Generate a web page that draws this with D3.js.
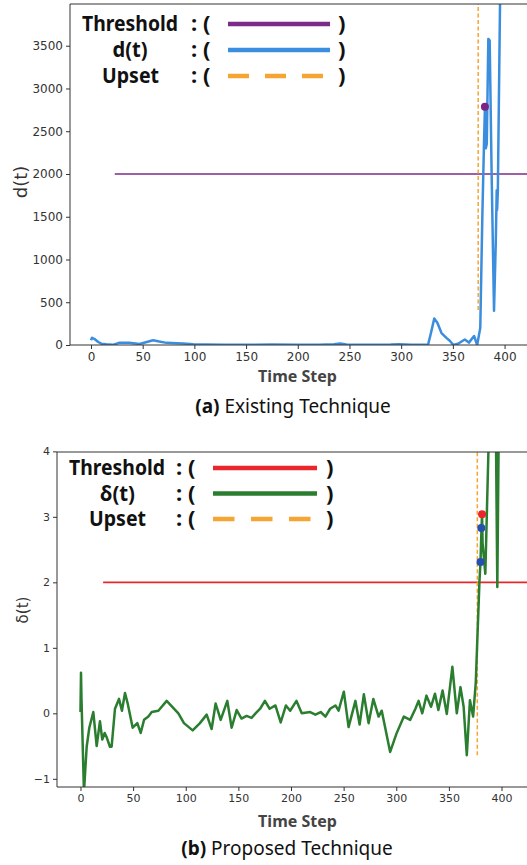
<!DOCTYPE html>
<html>
<head>
<meta charset="utf-8">
<script src="https://cdn.jsdelivr.net/npm/d3@7"></script>
<style>
  body { margin: 0; background: #fff; }
  svg { display: block; }
  .tick text { font-family: "DejaVu Sans", sans-serif; fill: #333; }
  .tick line { stroke: #333; }
  .legend text { font-family: "Noto Sans", sans-serif; font-weight: bold; fill: #111; }
</style>
</head>
<body>
<svg id="chart"></svg>
<script>
const xTicks = [0, 50, 100, 150, 200, 250, 300, 350, 400];
const dTicks = [0, 500, 1000, 1500, 2000, 2500, 3000, 3500];
const deltaTicks = [-1, 0, 1, 2, 3, 4];

// (a) existing technique: d(t)
const dStep = [0, 1, 4, 7, 10, 15, 21, 27, 37, 47, 54, 60, 66, 73, 89, 99, 110, 130, 150, 175, 200, 220, 235, 241, 247, 270, 290, 298, 310, 326,
  329, 332, 335, 339, 344, 347, 350.5, 355, 361.5, 365.5, 370.5, 373.5, 376.5, 378.5, 380, 381, 381.8, 382.8, 384.3, 385.6, 387.5, 389.8,
  391.5, 392.4, 392.8, 393.5, 396];
const dValue = [55, 85, 65, 35, 15, 8, 2, 25, 25, 12, 35, 55, 40, 25, 18, 8, 6, 4, 3, 6, 2, 2, 8, 18, 6, 3, 6, 10, 3, 3,
  150, 310, 260, 140, 80, 50, 0, 15, 65, 28, 105, 0, 200, 1500, 2300, 2780, 2300, 2350, 3580, 3560, 2000, 400,
  1200, 1810, 1580, 1800, 4400];
const dThreshold = 2000;
const dThresholdFrom = 23;
const dUpset = 374.5;
const dUpsetFrom = 410;
const dAlarm = [{step: 381, value: 2785, color: '#7b2482'}];

// (b) proposed technique: delta(t)
const deltaStep = [0, 0.5, 1, 3.3, 5.9, 8.4, 12.2, 15.4, 18.5, 20.7, 23, 25, 28, 29.6, 32.8, 36.6, 39.4, 42.3, 45, 49.6, 54, 57.2, 60.4,
  64.5, 67.7, 74, 81.9, 93, 98.3, 106.6, 113.5, 119.9, 124.6, 128.4, 133.2, 139.5, 143.6, 148.4, 153, 157.8, 162.5, 167,
  170.7, 175.2, 179.7, 185.2, 190.2, 195.2, 199.2, 205.2, 210.2, 218.2, 223.2, 228.2, 232.7, 237.2, 242.2, 245.2, 250.2,
  254.7, 261.2, 265.2, 269.2, 273.7, 278.2, 283.2, 286.2, 294.2, 300.2, 307.2, 313.2, 318.2, 321.2, 324.7, 328.7,
  333, 336.8, 340, 344, 348, 353.3, 357.5, 361, 364, 367, 370, 373, 375.5, 379, 380, 381, 381.5, 382, 384.6, 388.5, 394.5, 396, 397.5];
const deltaValue = [0.02, 0.62, 0.2, -1.2, -0.51, -0.22, 0.02, -0.5, -0.12, -0.4, -0.3, -0.37, -0.51, -0.51, 0.07, 0.22, 0.04, 0.31, 0.14, -0.22, -0.15, -0.3, -0.1,
  -0.05, 0.02, 0.04, 0.19, 0, -0.15, -0.26, -0.15, -0.02, -0.24, 0.15, -0.1, 0.19, -0.22, 0.05, -0.08, -0.04, -0.07, 0.01,
  0.07, 0.19, 0.07, 0.12, -0.14, 0.12, 0.04, 0.19, 0, 0.02, -0.02, 0.02, -0.05, 0.07, 0.12, 0.04, 0.33,
  -0.21, 0.19, -0.17, 0.29, -0.15, 0.22, -0.05, 0.04, -0.59, -0.31, -0.05, -0.1, 0.07, 0.19, 0, 0.27,
  0.1, 0.3, 0.05, 0.35, -0.01, 0.71, 0, 0.4, 0.1, -0.64, 0.2, -0.05, 0.46, 2.0, 2.31, 2.83, 3.04, 2.6, 2.13, 4.6, 4.6, 1.93, 4.6];
const deltaThreshold = 2;
const deltaThresholdFrom = 21.5;
const deltaUpset = 377;
const deltaUpsetFrom = -0.64;
const deltaAlarm = [
  {step: 380, value: 2.31, color: '#2450b0'},
  {step: 380.8, value: 2.83, color: '#2450b0'},
  {step: 381.5, value: 3.04, color: '#e8262b'}
];

const svg = d3.select('#chart').attr('width', 527).attr('height', 865);

function createPanel(opts) {
  const xscale = d3.scaleLinear().domain(opts.xDomain).range([opts.left, 527]);
  const yscale = d3.scaleLinear().domain(opts.yDomain).range([opts.bottom, opts.top]);
  const g = svg.append('g');

  const clipId = 'clip-' + opts.id;
  g.append('clipPath').attr('id', clipId)
    .append('rect')
    .attr('x', opts.left).attr('y', opts.top)
    .attr('width', 527 - opts.left).attr('height', opts.bottom - opts.top);
  const plot = g.append('g').attr('clip-path', `url(#${clipId})`);

  // threshold
  plot.append('line')
    .attr('x1', xscale(opts.thresholdFrom)).attr('x2', xscale(opts.xDomain[1]))
    .attr('y1', yscale(opts.threshold)).attr('y2', yscale(opts.threshold))
    .attr('stroke', opts.thresholdColor).attr('stroke-width', 1.6);

  // upset marker
  plot.append('line')
    .attr('x1', xscale(opts.upset)).attr('x2', xscale(opts.upset))
    .attr('y1', yscale(opts.upsetFrom)).attr('y2', opts.top)
    .attr('stroke', '#f5a531').attr('stroke-width', 1.5)
    .attr('stroke-dasharray', '4,2.5');

  const line = d3.line().x((d) => xscale(d[0])).y((d) => yscale(d[1]));
  plot.append('path')
    .datum(d3.zip(opts.steps, opts.values))
    .attr('d', line)
    .attr('fill', 'none')
    .attr('stroke', opts.color)
    .attr('stroke-width', 2.5)
    .attr('stroke-linejoin', 'round');

  plot.selectAll('circle').data(opts.alarms).enter().append('circle')
    .attr('cx', (d) => xscale(d.step))
    .attr('cy', (d) => yscale(d.value))
    .attr('r', 4)
    .attr('fill', (d) => d.color);

  // axes
  const xaxis = d3.axisBottom(xscale).tickValues(xTicks).tickSize(4).tickPadding(3);
  const g_xaxis = g.append('g').attr('transform', `translate(0,${opts.bottom})`).call(xaxis);
  const yaxis = d3.axisLeft(yscale).tickValues(opts.yTicks).tickSize(4).tickPadding(3)
    .tickFormat((d) => (d < 0 ? '\u22121' : d));
  const g_yaxis = g.append('g').attr('transform', `translate(${opts.left},0)`).call(yaxis);
  [g_xaxis, g_yaxis].forEach((a) => {
    a.select('.domain').remove();
    a.selectAll('.tick text').style('font-size', opts.tickFont + 'px');
  });

  // spines (right one is outside the picture)
  g.append('path')
    .attr('d', `M527,${opts.top}H${opts.left}V${opts.bottom}H527`)
    .attr('fill', 'none').attr('stroke', '#333').attr('stroke-width', 1);

  // labels
  g.append('text')
    .attr('transform', `translate(${opts.yLabelX},${opts.yLabelY}) rotate(-90)`)
    .attr('text-anchor', 'middle')
    .style('font-family', '"DejaVu Sans", sans-serif')
    .style('font-size', opts.yLabelFont + 'px')
    .style('fill', '#333')
    .text(opts.yLabel);

  g.append('text')
    .attr('x', 297.5).attr('y', opts.xLabelY)
    .attr('text-anchor', 'middle')
    .style('font-family', '"Noto Sans", sans-serif')
    .style('font-weight', 'bold')
    .style('font-size', '16px')
    .style('fill', '#444')
    .text('Time Step');

  const cap = g.append('text')
    .attr('x', opts.captionX).attr('y', opts.captionY)
    .attr('text-anchor', 'middle')
    .style('font-family', '"Noto Sans", sans-serif')
    .style('font-size', '19px')
    .style('fill', '#111');
  cap.append('tspan').style('font-weight', 'bold').text(opts.captionTag);
  cap.append('tspan').text(' ' + opts.caption);

  // legend
  const lg = g.append('g').attr('class', 'legend');
  opts.legend.forEach((row, i) => {
    const y = opts.legendY + i * opts.legendGap;
    lg.append('text')
      .attr('x', row.cx).attr('y', y + 7)
      .attr('text-anchor', 'middle')
      .style('font-size', '22px')
      .attr('textLength', row.w).attr('lengthAdjust', 'spacingAndGlyphs')
      .text(row.label);
    lg.append('text').attr('x', opts.colonX).attr('y', y + 7).style('font-size', '22px').text(': (');
    lg.append('text').attr('x', opts.closeX).attr('y', y + 7).style('font-size', '22px').text(')');
    lg.append('line')
      .attr('x1', opts.legendX1).attr('x2', opts.legendX2)
      .attr('y1', y).attr('y2', y)
      .attr('stroke', row.color).attr('stroke-width', 4.5)
      .attr('stroke-dasharray', row.dash || null);
  });
}

createPanel({
  id: 'a',
  left: 70, top: 4, bottom: 345,
  xDomain: [-20.3, 421.7], yDomain: [0, 3988],
  yTicks: dTicks, tickFont: 12,
  steps: dStep, values: dValue, color: '#3b8ede',
  threshold: dThreshold, thresholdFrom: dThresholdFrom, thresholdColor: '#7d2b88',
  upset: dUpset, upsetFrom: dUpsetFrom,
  alarms: dAlarm,
  yLabel: 'd(t)', yLabelX: 27, yLabelY: 182, yLabelFont: 18,
  xLabelY: 382,
  captionTag: '(a)', caption: 'Existing Technique', captionX: 293, captionY: 413,
  legendY: 24, legendGap: 26, colonX: 191, closeX: 338, legendX1: 228, legendX2: 330,
  legend: [
    {label: 'Threshold', cx: 130, w: 96, color: '#7d2b88'},
    {label: 'd(t)', cx: 130, w: 35, color: '#3b8ede'},
    {label: 'Upset', cx: 130.5, w: 57, color: '#f5a531', dash: '21,16'}
  ]
});

createPanel({
  id: 'b',
  left: 57, top: 452, bottom: 787,
  xDomain: [-22.3, 424.2], yDomain: [-1.125, 3.99],
  yTicks: deltaTicks, tickFont: 11,
  steps: deltaStep, values: deltaValue, color: '#2b7d30',
  threshold: deltaThreshold, thresholdFrom: deltaThresholdFrom, thresholdColor: '#e8262b',
  upset: deltaUpset, upsetFrom: deltaUpsetFrom,
  alarms: deltaAlarm,
  yLabel: '\u03b4(t)', yLabelX: 28, yLabelY: 610, yLabelFont: 15,
  xLabelY: 827,
  captionTag: '(b)', caption: 'Proposed Technique', captionX: 287, captionY: 855,
  legendY: 468, legendGap: 25.5, colonX: 176, closeX: 326, legendX1: 213, legendX2: 317,
  legend: [
    {label: 'Threshold', cx: 117, w: 96, color: '#e8262b'},
    {label: '\u03b4(t)', cx: 117.5, w: 35, color: '#2b7d30'},
    {label: 'Upset', cx: 117.5, w: 57, color: '#f5a531', dash: '21.5,16.5'}
  ]
});
</script>
</body>
</html>
